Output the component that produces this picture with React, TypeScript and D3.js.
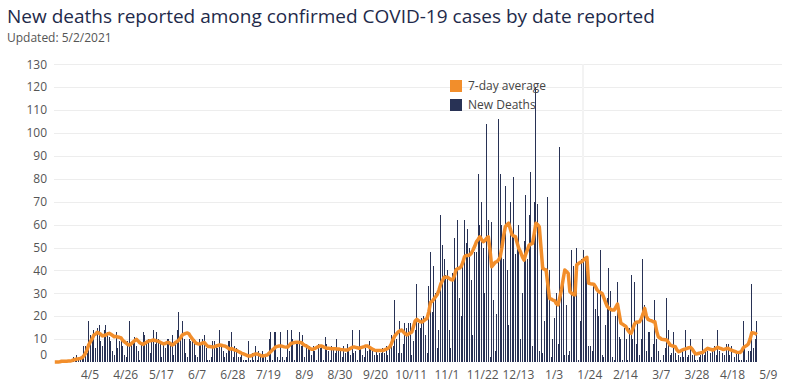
import { useRef, useEffect } from "react";
import * as d3 from "d3";

// daily new deaths, one row per week starting Sun 3/15/2020
const newDeaths: number[] = [
  0, 0, 0, 0, 1, 0, 0,
  0, 1, 0, 1, 2, 1, 3,
  1, 2, 3, 7, 7, 4, 18,
  12, 11, 14, 6, 15, 16, 9,
  7, 14, 16, 13, 11, 9, 5,
  3, 13, 6, 9, 11, 7, 3,
  2, 9, 18, 8, 9, 11, 7,
  5, 1, 8, 13, 12, 9, 10,
  4, 9, 14, 8, 13, 10, 8,
  2, 8, 6, 10, 10, 8, 12,
  3, 8, 14, 22, 12, 18, 10,
  4, 2, 10, 9, 11, 10, 3,
  2, 10, 8, 10, 12, 6, 1,
  1, 2, 9, 9, 8, 6, 14,
  7, 5, 2, 4, 9, 9, 13,
  2, 7, 6, 2, 2, 3, 1,
  1, 1, 9, 1, 4, 1, 7,
  1, 5, 2, 5, 2, 3, 1,
  10, 13, 1, 13, 13, 2, 1,
  13, 2, 1, 2, 14, 5, 14,
  10, 1, 9, 8, 13, 7, 12,
  2, 8, 6, 7, 3, 7, 5,
  1, 8, 6, 7, 1, 11, 8,
  5, 1, 7, 6, 4, 10, 6,
  5, 2, 7, 4, 8, 6, 3,
  14, 4, 5, 1, 14, 6, 3,
  2, 6, 5, 9, 7, 6, 3,
  5, 3, 4, 4, 6, 4, 7,
  3, 6, 12, 7, 27, 10, 4,
  18, 4, 8, 17, 15, 17, 17,
  3, 9, 14, 34, 17, 15, 19,
  20, 12, 4, 33, 48, 22, 42,
  30, 6, 14, 64, 51, 45, 38,
  40, 14, 6, 39, 54, 41, 62,
  28, 20, 45, 62, 52, 58, 50,
  36, 12, 48, 48, 82, 60, 70,
  50, 30, 104, 62, 2, 61, 27,
  5, 21, 106, 82, 60, 45, 77,
  40, 16, 70, 55, 81, 47, 50,
  60, 10, 30, 53, 73, 45, 64,
  83, 7, 70, 120, 69, 5, 45,
  4, 18, 35, 72, 40, 2, 10,
  19, 30, 8, 94, 32, 39, 3,
  25, 3, 5, 49, 42, 29, 50,
  1, 18, 45, 49, 46, 40, 7,
  7, 5, 34, 23, 30, 20, 49,
  3, 2, 16, 28, 41, 31, 2,
  1, 20, 35, 11, 10, 1, 15,
  10, 1, 15, 38, 10, 35, 8,
  17, 3, 10, 45, 25, 5, 13,
  13, 2, 8, 27, 10, 5, 1,
  0, 3, 6, 28, 14, 3, 4,
  13, 4, 1, 3, 2, 5, 2,
  14, 2, 3, 10, 3, 4, 1,
  1, 2, 3, 10, 3, 6, 5,
  0, 4, 6, 7, 3, 14, 5,
  0, 4, 3, 8, 8, 3, 7,
  0, 2, 5, 4, 1, 1, 18,
  7, 1, 5, 5, 34, 6, 10,
  18,
];

// 7-day average as drawn, same days
const sevenDayAvg: number[] = [
  0, 0, 0, 0.1, 0.3, 0.3, 0.3,
  0.3, 0.4, 0.4, 0.6, 0.9, 1.1, 1.3,
  1.4, 1.6, 1.9, 2.6, 3.7, 5.4, 7.6,
  8.9, 10.2, 11.8, 12.2, 13, 12.6, 12.1,
  11.4, 11.6, 11.8, 12.3, 12.5, 12.1, 11.6,
  11, 11.2, 10.9, 10.8, 10.5, 9.4, 8.8,
  8.2, 7.6, 7.4, 8, 8.7, 9.3, 9.9,
  9.2, 8.4, 8, 7.7, 8.2, 8.6, 9.1,
  9.3, 9.4, 9.6, 9.4, 9.2, 9, 8.6,
  8.2, 7.9, 8.1, 8.5, 8.5, 8, 7.4,
  7.8, 8.5, 9, 9.6, 10.6, 11.8, 12.2,
  12.5, 12.7, 12.2, 11, 10, 9.1, 8.2,
  8, 7.9, 8, 8.3, 8.5, 7.6, 6.8,
  6.8, 6.7, 6.5, 6.7, 7, 7.2, 7.4,
  7.3, 7.1, 7, 6.6, 6, 5.6, 5.9,
  5.5, 5.2, 5, 4.6, 4.2, 3.8, 3.5,
  3.2, 2.9, 2.6, 2.6, 2.9, 3.2, 3.5,
  3.5, 3.2, 2.9, 2.6, 2.7, 2.9, 3,
  3.8, 4.5, 5.2, 5.9, 6.6, 6.8, 7,
  7, 6.8, 6.6, 6.5, 6.5, 7.3, 8.2,
  8.3, 8.5, 8.6, 8.6, 8.5, 8.5, 7.8,
  7.3, 7, 6.5, 6, 5.6, 5.6, 5.9,
  6.3, 6.7, 7, 7, 6.6, 6.3, 6,
  6, 5.9, 5.8, 5.8, 5.8, 5.7, 5.7,
  5.5, 5.4, 5.3, 5.2, 5.2, 5.5, 6,
  6.4, 6.6, 6.4, 6.2, 6, 6.3, 6.5,
  6.7, 7, 7, 6.5, 6, 5.6, 5.2,
  5, 5, 5, 5, 5, 5.3, 5.6,
  6, 6.5, 8, 10, 11.4, 12.3, 13.1,
  13.6, 14, 13.2, 12.4, 11.8, 12.2, 12.6,
  13.1, 15.5, 18, 18.6, 18, 17.6, 17.5,
  18, 18.6, 19, 22, 26, 26.5, 27.5,
  28.5, 29.5, 31.5, 34, 35.5, 37, 37,
  37, 36.5, 36, 35.8, 37.5, 40.2, 40.8,
  41, 41.6, 43.5, 46, 46.5, 46.5, 46.7,
  47.5, 48.9, 50.5, 52.5, 53.5, 54.7, 53.5,
  52.5, 53, 54, 54.7, 49, 41.6, 42.5,
  43.5, 43.8, 44.5, 46, 50, 55, 59,
  60, 60.6, 58, 55.5, 55, 54.7, 52,
  49.5, 48, 46, 44.5, 47, 49, 51,
  51.5, 51.8, 56, 60.6, 60, 59, 50,
  40.9, 40.5, 40.2, 34, 27.8, 27.5, 27,
  26.8, 25.5, 24.9, 28, 31.4, 36, 40.2,
  39.5, 38.7, 30.7, 30, 29.5, 29.3, 42.4,
  43, 43.5, 43.8, 44.5, 45.2, 45.7, 34.4,
  34.2, 34.1, 34, 33, 31.5, 30.7, 30.3,
  29.9, 28, 26, 24.2, 23.5, 23, 22.7,
  22.7, 24, 25.3, 21, 16.9, 16.5, 16,
  15.4, 14, 13, 12.5, 14.5, 16.5, 17.4,
  17.5, 17.6, 19, 21, 23.4, 20, 18.6,
  18.2, 18, 17.6, 17.6, 13.5, 11, 10.5,
  9.9, 9.8, 9.7, 9.6, 8.5, 7.4, 7.1,
  6.9, 6.7, 5.2, 4.5, 4.8, 5.2, 5.5,
  5.7, 6, 6.2, 6.4, 5.6, 4.5, 3.5,
  3.6, 3.8, 4, 4.1, 4.8, 5.4, 6,
  5.7, 5.5, 5.2, 5.6, 6, 6.4, 6.1,
  5.8, 5.5, 5.6, 5.8, 6, 5.5, 5.2,
  4.9, 4.6, 4.3, 4.2, 4.1, 4.8, 6.2,
  6.8, 7.2, 7.9, 10, 12.8, 12.7, 12.5,
  12,
];

const startDate = "2020-03-15";
const tickDates = [
  "2020-04-05", "2020-04-26", "2020-05-17", "2020-06-07", "2020-06-28",
  "2020-07-19", "2020-08-09", "2020-08-30", "2020-09-20", "2020-10-11",
  "2020-11-01", "2020-11-22", "2020-12-13", "2021-01-03", "2021-01-24",
  "2021-02-14", "2021-03-07", "2021-03-28", "2021-04-18", "2021-05-09",
];
const yTicks = [0, 10, 20, 30, 40, 50, 60, 70, 80, 90, 100, 110, 120, 130];
const highlightDate = "2021-01-20";

const W = 787;
const H = 390;
const NAVY = "#283255";
const ORANGE = "#f28e2b";
const FONT = "'Open Sans', 'Noto Sans', sans-serif";

const parse = d3.timeParse("%Y-%m-%d");
const fmt = d3.timeFormat("%-m/%-d");

export default function App() {
  const svgRef = useRef<SVGSVGElement>(null);

  useEffect(() => {
    const svg = d3.select(svgRef.current);
    svg.selectAll("*").remove();

    const t0 = parse(startDate)!;
    const rows = newDeaths.map((v, i) => ({
      date: d3.timeDay.offset(t0, i),
      deaths: v,
      avg: sevenDayAvg[i],
    }));

    const x = d3
      .scaleTime()
      .domain([t0, parse("2021-05-09")!])
      .range([54.3, 768.3]);
    const y = d3.scaleLinear().domain([0, 130]).range([362, 64.3]);

    // title
    svg.append("text")
      .attr("x", 7).attr("y", 23)
      .attr("font-family", FONT).attr("font-size", 19)
      .attr("fill", "#1e2a4a")
      .text("New deaths reported among confirmed COVID-19 cases by date reported");
    svg.append("text")
      .attr("x", 7).attr("y", 42)
      .attr("font-family", FONT).attr("font-size", 12)
      .attr("fill", "#555")
      .text("Updated: 5/2/2021");

    // grid + y labels
    const g = svg.append("g");
    g.selectAll("line.grid")
      .data(yTicks.filter((d) => d > 0))
      .enter().append("line")
      .attr("x1", 54).attr("x2", 782)
      .attr("y1", (d) => Math.round(y(d)) + 0.5).attr("y2", (d) => Math.round(y(d)) + 0.5)
      .attr("stroke", "#ededed").attr("stroke-width", 1);

    g.selectAll("text.ylab")
      .data(yTicks)
      .enter().append("text")
      .attr("x", 47)
      .attr("y", (d) => (d === 0 ? y(d) - 7 : y(d)))
      .attr("dy", "0.35em")
      .attr("text-anchor", "end")
      .attr("font-family", FONT).attr("font-size", 12)
      .attr("fill", "#555")
      .text((d) => d);

    // hover highlight column
    const hx = Math.round(x(parse(highlightDate)!));
    g.append("rect")
      .attr("x", hx - 1).attr("width", 2)
      .attr("y", y(130)).attr("height", y(0) - y(130))
      .attr("fill", "#f3f3f3");

    // bars
    g.selectAll("rect.bar")
      .data(rows)
      .enter().append("rect")
      .attr("x", (d) => Math.round(x(d.date)))
      .attr("width", 1)
      .attr("y", (d) => y(d.deaths))
      .attr("height", (d) => y(0) - y(d.deaths))
      .attr("fill", NAVY)
      .attr("shape-rendering", "crispEdges");

    // 7-day average
    const line = d3.line<(typeof rows)[number]>()
      .x((d) => x(d.date) + 0.5)
      .y((d) => y(d.avg))
      .curve(d3.curveLinear);
    g.append("path")
      .datum(rows)
      .attr("d", line)
      .attr("fill", "none")
      .attr("stroke", ORANGE)
      .attr("stroke-width", 3.5)
      .attr("stroke-linejoin", "round");

    // x labels
    g.selectAll("text.xlab")
      .data(tickDates.map((s) => parse(s)!))
      .enter().append("text")
      .attr("x", (d) => x(d))
      .attr("y", 379)
      .attr("text-anchor", "middle")
      .attr("font-family", FONT).attr("font-size", 12)
      .attr("fill", "#555")
      .text((d) => fmt(d));

    // legend
    const legend = [
      { label: "7-day average", color: ORANGE },
      { label: "New Deaths", color: NAVY },
    ];
    const lg = svg.append("g").attr("transform", "translate(450,80)");
    legend.forEach((l, i) => {
      lg.append("rect")
        .attr("x", 0).attr("y", i * 19)
        .attr("width", 12).attr("height", 12)
        .attr("fill", l.color);
      lg.append("text")
        .attr("x", 18).attr("y", i * 19 + 6)
        .attr("dy", "0.35em")
        .attr("font-family", FONT).attr("font-size", 12)
        .attr("fill", "#444")
        .text(l.label);
    });
  }, []);

  return (
    <svg
      ref={svgRef}
      width={W}
      height={H}
      style={{ display: "block", position: "absolute", left: 0, top: 0, background: "#fff" }}
    />
  );
}
